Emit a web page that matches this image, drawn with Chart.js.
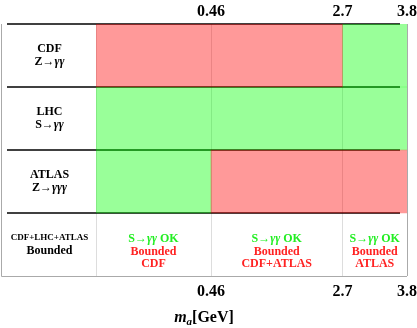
<!DOCTYPE html>
<html>
<head>
<meta charset="utf-8">
<script src="https://cdn.jsdelivr.net/npm/chart.js@4"></script>
<style>
  html, body { margin: 0; padding: 0; background: #fff; }
  #wrap { width: 417px; height: 328px; }
</style>
</head>
<body>
<div id="wrap"><canvas id="chart"></canvas></div>
<script>
// rows (top to bottom)
const categories = [['CDF', 'Z→γγ'], ['LHC', 'S→γγ'], ['ATLAS', 'Z→γγγ'], ['CDF+LHC+ATLAS', 'Bounded']];
// mass axis, GeV
const axisMin = -1.5;
const axisMax = 3.8;
const tickValues = [0.46, 2.7, 3.8];
// [from, to] per row, null = no band
const redBands = [[-1.5, 2.7], null, [0.46, 3.8], null];
const greenBands = [[2.7, 3.8], [-1.5, 3.8], [-1.5, 0.46], null];
// summary row, one entry per mass region
const regionEdges = [-1.5, 0.46, 2.7, 3.8];
const regionOk = ['S→γγ OK', 'S→γγ OK', 'S→γγ OK'];
const regionBounded = [['Bounded', 'CDF'], ['Bounded', 'CDF+ATLAS'], ['Bounded', 'ATLAS']];

const SERIF = '"Liberation Serif", "Times New Roman", serif';

function drawMixed(ctx, text, cx, cy, size, color) {
  // γ is set in italic, the rest upright bold
  const parts = text.split(/(γ+)/).filter(s => s);
  const fontFor = p => (p[0] === 'γ' ? 'italic bold ' : 'bold ') + size + 'px ' + SERIF;
  let total = 0;
  parts.forEach(p => { ctx.font = fontFor(p); total += ctx.measureText(p).width; });
  let x = cx - total / 2;
  ctx.fillStyle = color;
  ctx.textAlign = 'left';
  ctx.textBaseline = 'middle';
  parts.forEach(p => {
    ctx.font = fontFor(p);
    ctx.fillText(p, x, cy);
    x += ctx.measureText(p).width;
  });
}

const framePlugin = {
  id: 'frame',
  beforeDatasetsDraw(chart) {
    const { ctx, chartArea: area, scales } = chart;
    const y = scales.y;
    const half = (y.getPixelForValue(1) - y.getPixelForValue(0)) / 2;
    ctx.save();
    // light line at the left of the plot
    ctx.strokeStyle = '#dddddd';
    ctx.lineWidth = 1;
    ctx.beginPath();
    ctx.moveTo(area.left + 0.5, area.top);
    ctx.lineTo(area.left + 0.5, area.bottom);
    ctx.stroke();
    // outer grey frame
    ctx.strokeStyle = '#aaaaaa';
    ctx.beginPath();
    ctx.moveTo(1.5, area.top);
    ctx.lineTo(1.5, area.bottom + 0.5);
    ctx.lineTo(area.right, area.bottom + 0.5);
    ctx.stroke();
    // black row separators
    ctx.strokeStyle = '#000';
    ctx.lineWidth = 1.5;
    for (let i = 0; i < categories.length; i++) {
      const py = Math.round(y.getPixelForValue(i) - half);
      ctx.beginPath();
      ctx.moveTo(7, py);
      ctx.lineTo(area.right - 7, py);
      ctx.stroke();
    }
    ctx.restore();
  },
  afterDraw(chart) {
    const { ctx, chartArea: area, scales } = chart;
    const x = scales.x, y = scales.y;
    ctx.save();
    // row labels
    categories.forEach((lines, i) => {
      const cy = y.getPixelForValue(i);
      lines.forEach((line, j) => {
        const size = (i === categories.length - 1 && j === 0) ? 9 : 12;
        drawMixed(ctx, line, 49.5, cy - 6.5 + j * 13, size, '#000');
      });
    });
    // summary row texts
    const cyLast = y.getPixelForValue(categories.length - 1);
    for (let r = 0; r < regionOk.length; r++) {
      const cx = (x.getPixelForValue(regionEdges[r]) + x.getPixelForValue(regionEdges[r + 1])) / 2;
      drawMixed(ctx, regionOk[r], cx, cyLast - 6, 12, '#22ee22');
      regionBounded[r].forEach((line, j) => {
        drawMixed(ctx, line, cx, cyLast + 7 + j * 12.5, 12, '#ff2222');
      });
    }
    // axis title m_a[GeV]
    const base = 322;
    ctx.fillStyle = '#000';
    ctx.textAlign = 'left';
    ctx.textBaseline = 'alphabetic';
    const fM = 'italic bold 16px ' + SERIF;
    const fA = 'italic bold 11px ' + SERIF;
    const fG = 'bold 16px ' + SERIF;
    ctx.font = fM; const wM = ctx.measureText('m').width;
    ctx.font = fA; const wA = ctx.measureText('a').width;
    ctx.font = fG; const wG = ctx.measureText('[GeV]').width;
    let tx = 204 - (wM + wA + wG) / 2;
    ctx.font = fM; ctx.fillText('m', tx, base); tx += wM;
    ctx.font = fA; ctx.fillText('a', tx, base + 3); tx += wA;
    ctx.font = fG; ctx.fillText('[GeV]', tx, base);
    ctx.restore();
  }
};

function massAxis(position, height, padding) {
  return {
    type: 'linear',
    position: position,
    min: axisMin,
    max: axisMax,
    afterBuildTicks: scale => { scale.ticks = tickValues.map(v => ({ value: v })); },
    afterFit: scale => { scale.height = height; scale.paddingLeft = 0; scale.paddingRight = 0; },
    ticks: {
      autoSkip: false,
      maxRotation: 0,
      padding: padding,
      color: '#000',
      font: { family: SERIF, size: 16, weight: 'bold' },
      callback: v => String(v)
    },
    border: { display: false },
    grid: {
      display: position === 'bottom',
      drawTicks: false,
      lineWidth: 1,
      color: ctx => (ctx.tick && ctx.tick.value === axisMax) ? '#aaaaaa' : '#dddddd'
    }
  };
}

new Chart(document.getElementById('chart'), {
  type: 'bar',
  data: {
    labels: categories,
    datasets: [
      {
        label: 'Bounded',
        data: redBands,
        backgroundColor: 'rgba(255, 0, 0, 0.4)',
        borderWidth: 0,
        xAxisID: 'x'
      },
      {
        label: 'OK',
        data: greenBands,
        backgroundColor: 'rgba(0, 255, 0, 0.4)',
        borderWidth: 0,
        xAxisID: 'x'
      }
    ]
  },
  options: {
    indexAxis: 'y',
    responsive: true,
    maintainAspectRatio: false,
    animation: false,
    layout: { padding: { left: 0, right: 10, top: 0, bottom: 0 } },
    datasets: { bar: { grouped: false, barPercentage: 1, categoryPercentage: 1 } },
    plugins: { legend: { display: false }, tooltip: { enabled: false } },
    scales: {
      x: massAxis('bottom', 52, 6),
      x2: massAxis('top', 24, 3),
      y: {
        type: 'category',
        afterFit: scale => { scale.width = 96; },
        ticks: { display: false },
        border: { display: false },
        grid: { display: false }
      }
    }
  },
  plugins: [framePlugin]
});
</script>
</body>
</html>
